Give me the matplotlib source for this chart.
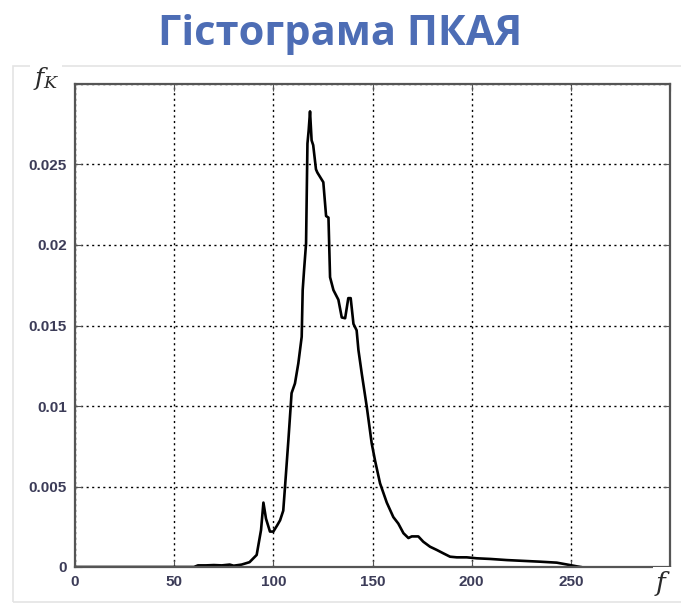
import matplotlib
matplotlib.use("Agg")
import matplotlib.pyplot as plt
from matplotlib.patches import Rectangle

plt.rcParams["mathtext.fontset"] = "dejavuserif"

# histogram: brightness level f and relative frequency f_K
f_vals = [0, 60, 62, 66, 70, 74, 78, 80, 84, 88, 91.6, 93.8, 95, 96.3, 98.3,
          100, 102, 103.4, 105, 105.9, 107.6, 109.2, 110.9, 112.6, 114.3,
          114.8, 115.5, 116.5, 117.2, 117.8, 118.5, 119.3, 120.1, 121.5, 122.2,
          125.2, 126.6, 127.8, 128.6, 130.3, 132.8, 134.5, 136.2, 137.8, 139,
          140.4, 142.0, 142.9, 144.6, 147.1, 149.6, 151.3, 153.8, 155.5, 157.2,
          160.5, 163.0, 165.6, 168.1, 169.8, 173.1, 175.6, 179, 182.4, 185.7,
          189.1, 192.5, 197.5, 202.6, 209.4, 217.7, 226.1, 234.5, 242.9,
          249.6, 253, 255]
fk_vals = [0, 0, 0.0001, 0.0001, 0.00012, 0.0001, 0.00015, 0.00008, 0.00015,
           0.0003, 0.00075, 0.0023, 0.0040, 0.0030, 0.0022, 0.0022, 0.0026,
           0.0029, 0.0035, 0.0050, 0.0079, 0.0108, 0.0114, 0.01265, 0.0143,
           0.0172, 0.01845, 0.0201, 0.0263, 0.0271, 0.0283, 0.0265, 0.0262,
           0.0247, 0.0245, 0.0239, 0.0218, 0.0217, 0.0180, 0.0172, 0.0166,
           0.0155, 0.01545, 0.0167, 0.0167, 0.0151, 0.0147, 0.01348, 0.0120,
           0.00996, 0.00768, 0.0066, 0.0052, 0.0046, 0.0040, 0.0031, 0.0027,
           0.0021, 0.0018, 0.0019, 0.0019, 0.00157, 0.00126, 0.00106, 0.00085,
           0.00064, 0.0006, 0.0006, 0.00054, 0.0005, 0.00043, 0.00038, 0.00033,
           0.00027, 0.00012, 0.00004, 0]

x_ticks = [0, 50, 100, 150, 200, 250, 300]
x_labels = ["0", "50", "100", "150", "200", "250", ""]
y_ticks = [0, 0.005, 0.01, 0.015, 0.02, 0.025, 0.03]
y_labels = ["0", "0.005", "0.01", "0.015", "0.02", "0.025", ""]

fig = plt.figure(figsize=(6.81, 6.03), dpi=100)

# faint frame around the chart area
fig.patches.append(Rectangle((13 / 681, 1 / 603), 700 / 681, 536 / 603,
                             transform=fig.transFigure, fill=False,
                             edgecolor="#e4e4e4", lw=1.2, zorder=0))

fig.text(0.5, 0.943, "Гістограма ПКАЯ", ha="center", va="center",
         fontsize=30, fontweight="bold", color="#4d6db5", family="Open Sans")

ax = fig.add_axes([75 / 681, 36 / 603, 595 / 681, 483 / 603])
ax.plot(f_vals, fk_vals, color="black", lw=1.9)
ax.set_xlim(0, 300)
ax.set_ylim(0, 0.03)
ax.set_xticks(x_ticks)
ax.set_xticklabels(x_labels)
ax.set_yticks(y_ticks)
ax.set_yticklabels(y_labels)
ax.grid(True, color="black", linestyle=(0, (1.5, 2.5)), lw=1.0)
ax.tick_params(direction="in", length=5, top=True, right=True,
               labelsize=11, labelcolor="#3c3c58", color="#555555", pad=6)
for lab in ax.get_xticklabels() + ax.get_yticklabels():
    lab.set_family("Liberation Sans")
    lab.set_fontweight("bold")
for sp in ax.spines.values():
    sp.set_color("#555555")
    sp.set_linewidth(1.6)

fig.text(33 / 681, 1 - 78 / 603, r"$f_K$", fontsize=18, color="#2a2a2a",
         ha="left", va="center",
         bbox=dict(facecolor="white", edgecolor="none", pad=2))
fig.text(654 / 681, 1 - 583 / 603, r"$f$", fontsize=19, color="#2a2a2a",
         ha="left", va="center",
         bbox=dict(facecolor="white", edgecolor="none", pad=1))

fig.savefig("out.png", dpi=100)
